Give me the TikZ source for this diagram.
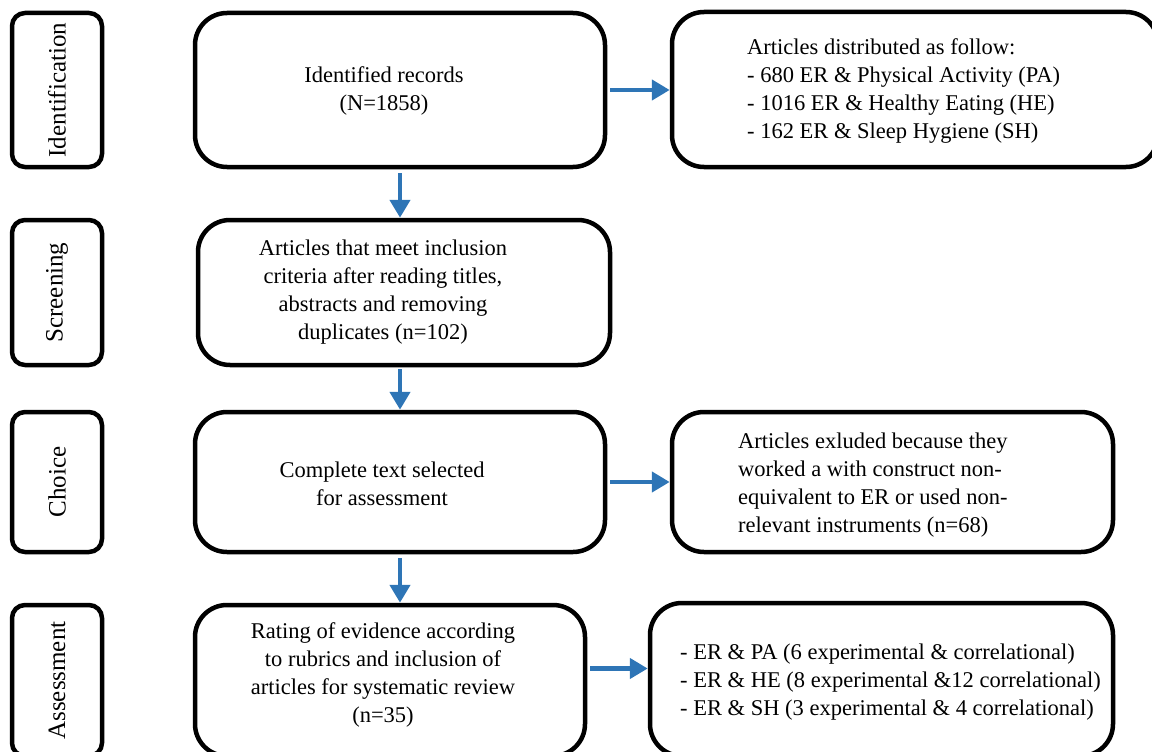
\documentclass[tikz,border=0pt]{standalone}
\usepackage{fontspec}
\setmainfont{Liberation Serif}
\usetikzlibrary{arrows.meta,positioning}
\definecolor{flowblue}{RGB}{46,117,182}

\begin{document}
\begin{tikzpicture}[x=1pt, y=-1pt,
  stage/.style={draw, line width=4.5pt, rounded corners=13pt, rotate=90, minimum height=90pt, inner sep=0pt, font=\fontsize{25}{30}\selectfont},
  box/.style={draw, line width=4.5pt, rounded corners=32pt, inner sep=0pt},
  txt/.style={align=center, inner sep=0pt, font=\fontsize{22.5}{28}\selectfont},
  lst/.style={align=left, anchor=west, inner sep=0pt, font=\fontsize{22.5}{28}\selectfont},
  flow/.style={draw=flowblue, line width=4.5pt, -{Triangle[width=20pt,length=18pt]}}]
\useasboundingbox (0,0) rectangle (1152,752);
% stages on the left
\node[stage, minimum width=154pt] (s_ident) at (57,90) {Identification};
\node[stage, minimum width=145pt] (s_screen) at (57,292.5) {Screening};
\node[stage, minimum width=140pt] (s_choice) at (57,482) {Choice};
\node[stage, minimum width=151pt] (s_assess) at (57,680.5) {Assessment};
% main column
\node[box, minimum width=410pt, minimum height=154pt] (ident) at (400,90) {};
\node[box, minimum width=412pt, minimum height=145pt] (screen) at (404,292.5) {};
\node[box, minimum width=410pt, minimum height=140pt] (choice) at (400,482) {};
\node[box, minimum width=390pt, minimum height=151pt] (assess) at (390,680.5) {};
\node[txt] (ident_t) at (384,91) {Identified records\\(N=1858)};
\node[txt] (screen_t) at (383,292) {Articles that meet inclusion\\criteria after reading titles,\\abstracts and removing\\duplicates (n=102)};
\node[txt] (choice_t) at (382,484) {Complete text selected\\for assessment};
\node[txt] (assess_t) at (383,675) {Rating of evidence according\\to rubrics and inclusion of\\articles for systematic review\\(n=35)};
% side boxes
\node[box, minimum width=486pt, minimum height=155pt] (dist) at (915,89.5) {};
\node[box, minimum width=441pt, minimum height=140pt] (excl) at (892.5,482) {};
\node[box, minimum width=463pt, minimum height=153pt] (result) at (881.5,679.5) {};
\node[lst] (dist_t) at (747,91) {Articles distributed as follow:\\- 680 ER \& Physical Activity (PA)\\- 1016 ER \& Healthy Eating (HE)\\- 162 ER \& Sleep Hygiene (SH)};
\node[lst] (excl_t) at (738,485) {Articles exluded because they\\worked a with construct non-\\equivalent to ER or used non-\\relevant instruments (n=68)};
\node[lst] (result_t) at (680,682) {- ER \& PA (6 experimental \& correlational)\\- ER \& HE (8 experimental \&12 correlational)\\- ER \& SH (3 experimental \& 4 correlational)};
% arrows
\draw[flow, shorten <=4pt] (ident.south) -- (ident.south |- screen.north);
\draw[flow, shorten <=2pt] (choice.north |- screen.south) -- (choice.north);
\draw[flow, shorten <=4pt] (choice.south) -- (choice.south |- assess.north);
\draw[flow, shorten <=3pt] (ident.east) -- (ident.east -| dist.west);
\draw[flow, shorten <=3pt] (choice.east) -- (choice.east -| excl.west);
\coordinate (a_out) at ([yshift=12pt]assess.east);
\draw[flow, shorten <=3pt] (a_out) -- (a_out -| result.west);
\end{tikzpicture}
\end{document}
